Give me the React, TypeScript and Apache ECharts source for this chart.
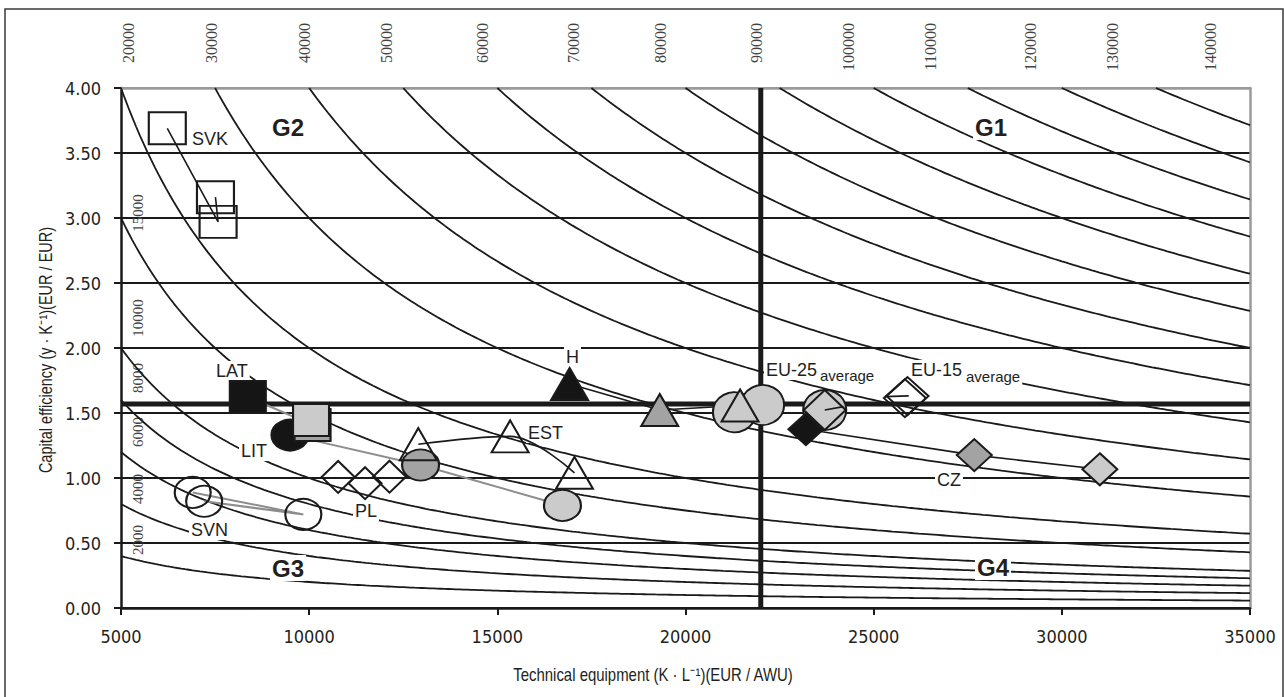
import React, { useEffect, useRef } from 'react';
import * as echarts from 'echarts';

// ---------- data ----------
const curveLevels = [2000, 4000, 6000, 8000, 10000, 15000, 20000, 30000, 40000, 50000, 60000, 70000, 80000, 90000, 100000, 110000, 120000, 130000, 140000];
const topLevelLabels = ['20000', '30000', '40000', '50000', '60000', '70000', '80000', '90000', '100000', '110000', '120000', '130000', '140000'];
const leftLevelLabels = ['15000', '10000', '8000', '6000', '4000', '2000'];

const euAvgX = 22000;
const euAvgY = 1.57;

const svkX = [6230, 7580, 7510];
const svkY = [3.69, 2.97, 3.16];
const svnX = [6905, 9845, 7210];
const svnY = [0.889, 0.72, 0.821];
const latX = [8370, 10090, 10050];
const latY = [1.623, 1.408, 1.446];
const litX = [9490, 12960, 16730];
const litY = [1.33, 1.1, 0.789];
const plX = [10770, 11485, 12135];
const plY = [1.008, 0.96, 1.01];
const estX = [12900, 15340, 17050];
const estY = [1.26, 1.32, 1.04];
const hunX = [16920, 19315, 21450];
const hunY = [1.723, 1.523, 1.558];
const czX = [23200, 27674, 31010];
const czY = [1.375, 1.176, 1.067];
const eu25X = [21300, 22050, 23700];
const eu25Y = [1.506, 1.562, 1.523];
const euOverlayX = [23700];
const euOverlayY = [1.523];
const eu15X = [25830, 25900];
const eu15Y = [1.615, 1.63];
const euLink1X = [23700, 24200];
const euLink1Y = [1.523, 1.549];
const euLink2X = [25300, 25930];
const euLink2Y = [1.626, 1.632];

const yTitle = 'Capital efficiency (y · K⁻¹)(EUR / EUR)';
const xTitle = 'Technical equipment (K · L⁻¹)(EUR / AWU)';

// ---------- styles ----------
const NARROW = "'Liberation Sans Narrow', 'DejaVu Sans Condensed', 'Liberation Sans', sans-serif";
const SANS = "'Liberation Sans', Arial, sans-serif";
const SERIF = "'Liberation Serif', 'DejaVu Serif', serif";
const INK = '#1a1a1a';
const BLACK_FILL = '#151515';
const MID_FILL = '#a3a3a3';
const LIGHT_FILL = '#cbcbcb';
const NONE = 'rgba(0,0,0,0)';
const GREY_LINE = '#8d8d8d';

const X_MIN = 5000;
const X_MAX = 35000;

const zip = (xs: number[], ys: number[]) => xs.map((x, i) => [x, ys[i]]);

function curvePoints(c: number): number[][] {
  const pts: number[][] = [];
  const start = Math.max(X_MIN, c / 4);
  for (let x = start; x < X_MAX; x += 100) pts.push([x, c / x]);
  pts.push([X_MAX, c / X_MAX]);
  return pts;
}

function measure(text: string, font: string): number {
  const ctx = document.createElement('canvas').getContext('2d');
  if (!ctx) return text.length * 8;
  ctx.font = font;
  return ctx.measureText(text).width;
}

function markers(name: string, xs: number[], ys: number[], symbol: string, size: number[], fills: string[]) {
  return {
    name,
    type: 'scatter',
    z: 5,
    silent: true,
    symbol,
    symbolSize: size,
    data: zip(xs, ys).map((p, i) => ({
      value: p,
      itemStyle: { color: fills[i % fills.length], borderColor: INK, borderWidth: 2, opacity: 1 },
    })),
  };
}

function link(name: string, xs: number[], ys: number[], color: string, width: number, z: number, smooth: number | boolean = false) {
  return {
    name,
    type: 'line',
    z,
    silent: true,
    showSymbol: false,
    symbol: 'none',
    smooth,
    data: zip(xs, ys),
    lineStyle: { color, width },
  };
}

function label(text: string, x: number, y: number, size = 18, bold = false, bg = true, pad: number[] = [1, 2, 1, 2]) {
  return {
    type: 'text',
    x,
    y,
    z: 3,
    silent: true,
    style: {
      text,
      fill: '#231f20',
      fontSize: size,
      fontFamily: SANS,
      fontWeight: bold ? 'bold' : 'normal',
      align: 'left',
      verticalAlign: 'middle',
      backgroundColor: bg ? '#ffffff' : undefined,
      padding: bg ? pad : 0,
    },
  };
}

export default function App() {
  const ref = useRef<HTMLDivElement>(null);

  useEffect(() => {
    if (!ref.current) return;
    const chart = echarts.init(ref.current, undefined, { renderer: 'svg' });

    const topLabelPx = [128, 211.7, 304, 386.7, 482, 573, 660, 756.7, 848, 930.7, 1030, 1112.7, 1210];
    const leftLabelPy = [213, 318, 378, 432, 489, 540];

    const titleFont = `18px ${SANS}`;
    const yTitleScale = 246 / measure(yTitle, titleFont);
    const xTitleScale = 280 / measure(xTitle, titleFont);

    const curveSeries = curveLevels.map((c) => ({
      name: 'iso-' + c,
      type: 'line',
      z: 2,
      silent: true,
      showSymbol: false,
      symbol: 'none',
      clip: true,
      data: curvePoints(c),
      lineStyle: { color: INK, width: 1.8 },
    }));

    const graphics: any[] = [
      {
        type: 'rect',
        z: 0,
        silent: true,
        shape: { x: 5, y: 9, width: 1278, height: 700 },
        style: { fill: NONE, stroke: '#3a3a3a', lineWidth: 1.5 },
      },
      ...topLevelLabels.map((t, i) => ({
        type: 'text',
        x: topLabelPx[i],
        y: 23,
        rotation: Math.PI / 2,
        z: 1,
        silent: true,
        style: { text: t, fill: '#444', fontSize: 16, fontFamily: SERIF, align: 'right', verticalAlign: 'middle' },
      })),
      ...leftLevelLabels.map((t, i) => ({
        type: 'text',
        x: 138,
        y: leftLabelPy[i],
        rotation: Math.PI / 2,
        z: 1,
        silent: true,
        style: { text: t, fill: '#444', fontSize: 15, fontFamily: SERIF, align: 'center', verticalAlign: 'middle' },
      })),
      {
        type: 'text',
        x: 45,
        y: 350,
        rotation: Math.PI / 2,
        scaleX: yTitleScale,
        z: 1,
        silent: true,
        style: { text: yTitle, fill: '#231f20', fontSize: 18, fontFamily: SANS, align: 'center', verticalAlign: 'middle' },
      },
      {
        type: 'text',
        x: 653,
        y: 675,
        scaleX: xTitleScale,
        z: 1,
        silent: true,
        style: { text: xTitle, fill: '#231f20', fontSize: 18, fontFamily: SANS, align: 'center', verticalAlign: 'middle' },
      },
      label('SVK', 192, 139, 18, false, false),
      label('G2', 270, 127, 24, true),
      label('G1', 973, 127, 24, true),
      label('G3', 270, 568, 24, true),
      label('G4', 975, 567, 24, true),
      label('LAT', 214, 371),
      label('LIT', 239, 451),
      label('PL', 353, 511),
      label('SVN', 189, 530),
      label('EST', 526, 433),
      label('H', 564, 357),
      label('CZ', 935, 480),
      label('EU-25', 764, 370),
      label('average', 818, 375, 15, false, true, [5, 2, 1, 2]),
      label('EU-15', 909, 370),
      label('average', 964, 376, 15, false, true, [5, 2, 1, 2]),
    ];

    const option: any = {
      animation: false,
      backgroundColor: '#ffffff',
      grid: { left: 121, right: 34, top: 88, bottom: 89, containLabel: false },
      xAxis: [
        {
          type: 'value',
          min: X_MIN,
          max: X_MAX,
          interval: 5000,
          position: 'bottom',
          axisLine: { show: true, onZero: false, lineStyle: { color: INK, width: 2.5 } },
          axisTick: { show: true, inside: false, length: 7, lineStyle: { color: INK, width: 2 } },
          axisLabel: { margin: 19, fontSize: 18, fontFamily: NARROW, color: '#231f20', formatter: (v: number) => String(v) },
          splitLine: { show: false },
        },
        {
          type: 'value',
          min: X_MIN,
          max: X_MAX,
          position: 'top',
          axisLine: { show: true, onZero: false, lineStyle: { color: '#9a9a9a', width: 2.5 } },
          axisTick: { show: false },
          axisLabel: { show: false },
          splitLine: { show: false },
        },
      ],
      yAxis: [
        {
          type: 'value',
          min: 0,
          max: 4,
          interval: 0.5,
          axisLine: { show: true, onZero: false, lineStyle: { color: INK, width: 2.5 } },
          axisTick: { show: true, length: 7, lineStyle: { color: INK, width: 2 } },
          axisLabel: { margin: 20, fontSize: 18, fontFamily: NARROW, color: '#231f20', formatter: (v: number) => v.toFixed(2) },
          splitLine: {
            show: true,
            lineStyle: { color: [INK, INK, INK, INK, INK, INK, INK, INK, '#9a9a9a'], width: 2 },
          },
        },
        {
          type: 'value',
          min: 0,
          max: 4,
          position: 'right',
          axisLine: { show: true, onZero: false, lineStyle: { color: '#9a9a9a', width: 2.5 } },
          axisTick: { show: false },
          axisLabel: { show: false },
          splitLine: { show: false },
        },
      ],
      series: [
        ...curveSeries,
        link('EU-25 average (K·L⁻¹)', [euAvgX, euAvgX], [0, 4], INK, 5, 2),
        link('EU-25 average (y·K⁻¹)', [X_MIN, X_MAX], [euAvgY, euAvgY], INK, 5, 2),
        link('SVK path', svkX, svkY, INK, 1.6, 6),
        link('SVN path', svnX, svnY, GREY_LINE, 2, 4),
        link('LIT path', litX, litY, GREY_LINE, 2, 4),
        link('LAT path', latX, latY, GREY_LINE, 2, 4),
        link('EST path', estX, estY, INK, 1.6, 6, 0.35),
        link('H path', hunX, hunY, INK, 1.6, 4),
        link('CZ path', czX, czY, INK, 1.6, 4),
        markers('SVK', svkX, svkY, 'rect', [37, 32], [NONE]),
        markers('SVN', svnX, svnY, 'circle', [36, 31], [NONE]),
        markers('LIT', litX, litY, 'circle', [37, 31], [BLACK_FILL, MID_FILL, LIGHT_FILL]),
        markers('LAT', latX, latY, 'rect', [36, 32], [BLACK_FILL, MID_FILL, LIGHT_FILL]),
        markers('PL', plX, plY, 'diamond', [33, 32], [NONE]),
        markers('EST', estX, estY, 'triangle', [37, 32], [NONE]),
        markers('EU-25', eu25X, eu25Y, 'circle', [43, 40], [LIGHT_FILL]),
        markers('EU overlay', euOverlayX, euOverlayY, 'diamond', [42, 40], [LIGHT_FILL]),
        markers('H', hunX, hunY, 'triangle', [37, 32], [BLACK_FILL, MID_FILL, LIGHT_FILL]),
        markers('CZ', czX, czY, 'diamond', [35, 32], [BLACK_FILL, MID_FILL, LIGHT_FILL]),
        markers('EU-15', eu15X, eu15Y, 'diamond', [42, 38], [NONE]),
        link('EU link 1', euLink1X, euLink1Y, INK, 1.6, 6),
        link('EU link 2', euLink2X, euLink2Y, INK, 1.6, 6),
      ],
      graphic: { elements: graphics },
    };

    chart.setOption(option);
    return () => chart.dispose();
  }, []);

  return (
    <div
      ref={ref}
      style={{ position: 'fixed', left: 0, top: 0, width: 1284, height: 697, background: '#fff' }}
    />
  );
}
